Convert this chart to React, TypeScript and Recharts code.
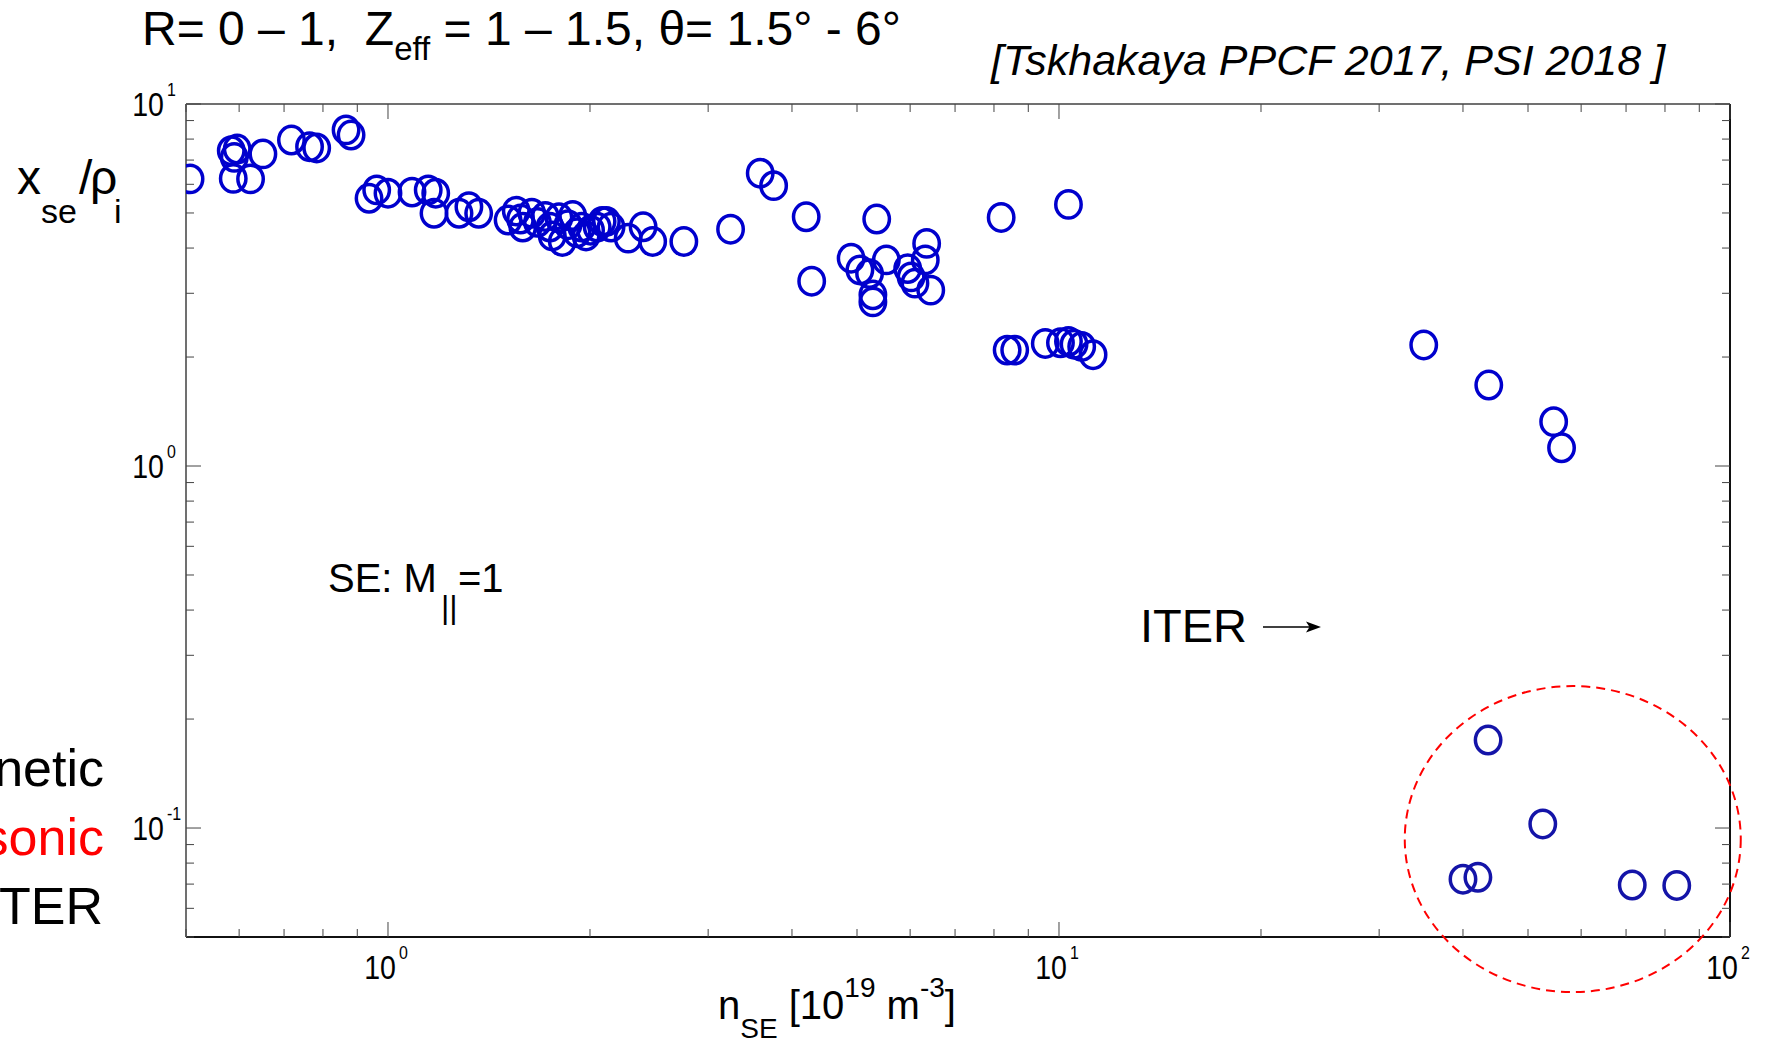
import React from "react";
import {
  ScatterChart,
  Scatter,
  XAxis,
  YAxis,
  ReferenceLine,
  ReferenceDot,
} from "recharts";

// sheath-entrance density [1e19 m^-3] and width x_se / rho_i
const seDensity = [
  0.507, 0.584, 0.596, 0.59, 0.588, 0.624, 0.651, 0.718, 0.764, 0.783, 0.866, 0.881,
  0.937, 0.962, 1.0, 1.086, 1.148, 1.178, 1.171, 1.276, 1.32, 1.365,
  1.51, 1.553, 1.576, 1.588, 1.638, 1.67, 1.716, 1.743, 1.757, 1.798, 1.819, 1.855,
  1.885, 1.913, 1.944, 1.973, 2.004, 2.05, 2.085, 2.116, 2.15,
  2.28, 2.4, 2.48, 2.76, 3.24, 3.587, 3.756, 4.2, 4.28, 4.9, 5.05, 5.22, 5.28, 5.28,
  5.35, 5.53, 5.95, 6.02, 6.1, 6.32, 6.35, 6.44, 8.2, 10.33,
  8.37, 8.59, 9.54, 10.05, 10.33, 10.53, 10.81, 11.24,
  34.96, 43.7, 54.6, 56.1,
];
const seWidth = [
  6.21, 7.43, 7.51, 7.12, 6.23, 6.21, 7.28, 7.95, 7.62, 7.56, 8.48, 8.21,
  5.49, 5.79, 5.67, 5.71, 5.79, 5.67, 4.99, 4.99, 5.2, 4.99,
  4.78, 5.06, 4.81, 4.57, 4.99, 4.71, 4.89, 4.57, 4.32, 4.85, 4.17, 4.64,
  4.92, 4.41, 4.57, 4.32, 4.48, 4.57, 4.74, 4.74, 4.57,
  4.26, 4.58, 4.17, 4.17, 4.51, 6.44, 5.95, 4.88, 3.24, 3.75, 3.48, 3.4, 2.97, 2.84,
  4.81, 3.71, 3.51, 3.33, 3.2, 3.71, 4.12, 3.06, 4.86, 5.28,
  2.09, 2.09, 2.18, 2.19, 2.21, 2.17, 2.14, 2.03,
  2.16, 1.674, 1.326, 1.123,
];

const iterDensity = [43.6, 52.6, 40.0, 42.1, 71.5, 83.3];
const iterWidth = [0.175, 0.1026, 0.0722, 0.0731, 0.0696, 0.0694];

const xTicks = [
  0.5, 0.6, 0.7, 0.8, 0.9, 1, 2, 3, 4, 5, 6, 7, 8, 9, 10,
  20, 30, 40, 50, 60, 70, 80, 90, 100,
];
const yTicks = [
  0.05, 0.06, 0.07, 0.08, 0.09, 0.1, 0.2, 0.3, 0.4, 0.5, 0.6, 0.7, 0.8, 0.9,
  1, 2, 3, 4, 5, 6, 7, 8, 9, 10,
];

const sePoints = seDensity.map((x, i) => ({ x, y: seWidth[i] }));
const iterPoints = iterDensity.map((x, i) => ({ x, y: iterWidth[i] }));

const W = 1774;
const H = 1042;
const PLOT = { left: 186, top: 104, right: 1730, bottom: 937 };
const Y_W = 60;
const X_H = 50;
const FONT = '"Liberation Sans", Arial, Helvetica, sans-serif';
const TICK = "#444";
const BLUE = "#0000cd";

function decade(v: number) {
  const exp = Math.round(Math.log10(v));
  return { exp, major: Math.abs(Math.log10(v) - exp) < 1e-6 };
}

function DecadeLabel({ x, y, exp }: { x: number; y: number; exp: number }) {
  return (
    <g fontFamily={FONT} fill="#000">
      <text transform={`translate(${x},${y}) scale(0.84,1)`} fontSize={34} textAnchor="end">
        10
      </text>
      <text transform={`translate(${x + 3},${y - 20}) scale(0.84,1)`} fontSize={19}>
        {exp}
      </text>
    </g>
  );
}

function XTick(props: any) {
  const { x, payload } = props;
  const { exp, major } = decade(payload.value);
  const len = major ? 15 : 8;
  return (
    <g>
      <line x1={x} x2={x} y1={PLOT.bottom} y2={PLOT.bottom - len} stroke={TICK} />
      <line x1={x} x2={x} y1={PLOT.top} y2={PLOT.top + len} stroke={TICK} />
      {major && <DecadeLabel x={x + 8} y={PLOT.bottom + 42} exp={exp} />}
    </g>
  );
}

function YTick(props: any) {
  const { y, payload } = props;
  const { exp, major } = decade(payload.value);
  const len = major ? 15 : 8;
  return (
    <g>
      <line x1={PLOT.left} x2={PLOT.left + len} y1={y} y2={y} stroke={TICK} />
      <line x1={PLOT.right} x2={PLOT.right - len} y1={y} y2={y} stroke={TICK} />
      {major && <DecadeLabel x={PLOT.left - 22} y={y + 12} exp={exp} />}
    </g>
  );
}

const ring = (color: string) => (p: any) =>
  (
    <ellipse
      cx={p.cx}
      cy={p.cy}
      rx={12.7}
      ry={13.7}
      fill="none"
      stroke={color}
      strokeWidth={3.5}
    />
  );

function Annotations() {
  return (
    <svg
      width={W}
      height={H}
      style={{ position: "absolute", left: 0, top: 0, pointerEvents: "none" }}
      fontFamily={FONT}
      fill="#000"
    >
      <text x={142} y={45} fontSize={48} style={{ whiteSpace: "pre" }}>
        {"R= 0 – 1,  Z"}
        <tspan fontSize={33} dy={15}>eff</tspan>
        <tspan dy={-15}>{" = 1 – 1.5, θ= 1.5° - 6°"}</tspan>
      </text>
      <text x={991} y={75} fontSize={43} fontStyle="italic">
        [Tskhakaya PPCF 2017, PSI 2018 ]
      </text>

      <text fontSize={48} y={194}>
        <tspan x={17}>x</tspan>
        <tspan x={41} y={223} fontSize={34}>se</tspan>
        <tspan x={79} y={194}>/</tspan>
        <tspan x={90}>ρ</tspan>
        <tspan x={114} y={223} fontSize={34}>i</tspan>
      </text>

      <text x={718} y={1019} fontSize={40} style={{ whiteSpace: "pre" }}>
        n
        <tspan dy={19} fontSize={28}>SE</tspan>
        <tspan dy={-19}>{" [10"}</tspan>
        <tspan dy={-22} fontSize={28}>19</tspan>
        <tspan dy={22}>{" m"}</tspan>
        <tspan dy={-22} fontSize={28}>-3</tspan>
        <tspan dy={22}>]</tspan>
      </text>

      <text x={328} y={592} fontSize={40}>
        SE: M
        <tspan x={441} y={618} fontSize={32}>||</tspan>
        <tspan x={458} y={592}>=1</tspan>
      </text>

      <text x={1140} y={642} fontSize={47}>ITER</text>
      <line x1={1263} y1={627} x2={1312} y2={627} stroke="#000" strokeWidth={1.6} />
      <polygon points="1321,627 1306,621.5 1309.5,627 1306,632.5" fill="#000" />

      <text x={104} y={786} fontSize={52} textAnchor="end">netic</text>
      <text x={104} y={855} fontSize={52} textAnchor="end" fill="#ff0000">sonic</text>
      <text x={103} y={924} fontSize={52} textAnchor="end">TER</text>
    </svg>
  );
}

export default function App() {
  return (
    <div
      style={{
        position: "absolute",
        left: 0,
        top: 0,
        width: W,
        height: H,
        background: "#fff",
        overflow: "hidden",
      }}
    >
      <ScatterChart
        width={W}
        height={H}
        margin={{
          top: PLOT.top,
          right: W - PLOT.right,
          left: PLOT.left - Y_W,
          bottom: H - PLOT.bottom - X_H,
        }}
      >
        <XAxis
          dataKey="x"
          type="number"
          scale="log"
          domain={[0.5, 100]}
          allowDataOverflow
          ticks={xTicks}
          interval={0}
          tickLine={false}
          tick={(p: any) => <XTick {...p} />}
          axisLine={{ stroke: "#111", strokeWidth: 2 }}
          height={X_H}
        />
        <YAxis
          dataKey="y"
          type="number"
          scale="log"
          domain={[0.05, 10]}
          allowDataOverflow
          ticks={yTicks}
          interval={0}
          tickLine={false}
          tick={(p: any) => <YTick {...p} />}
          axisLine={{ stroke: "#707070", strokeWidth: 2 }}
          width={Y_W}
        />
        <ReferenceLine y={10} stroke="#707070" strokeWidth={2} />
        <ReferenceLine x={100} stroke="#111" strokeWidth={2} />
        <Scatter data={sePoints} shape={ring(BLUE)} isAnimationActive={false} />
        <Scatter data={iterPoints} shape={ring("#1414a8")} isAnimationActive={false} />
        <ReferenceDot
          x={58.3}
          y={0.0932}
          ifOverflow="visible"
          shape={(p: any) => (
            <ellipse
              cx={p.cx}
              cy={p.cy}
              rx={168}
              ry={153}
              fill="none"
              stroke="#ff0000"
              strokeWidth={2}
              strokeDasharray="9 6"
            />
          )}
        />
      </ScatterChart>
      <Annotations />
    </div>
  );
}
